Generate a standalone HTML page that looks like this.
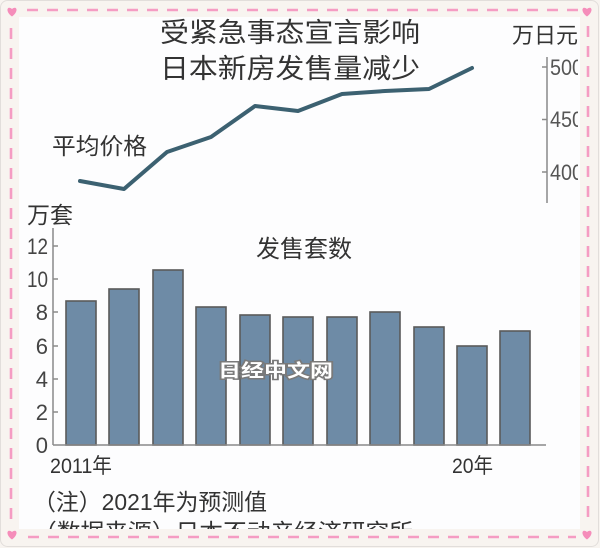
<!DOCTYPE html>
<html><head><meta charset="utf-8"><style>
html,body{margin:0;padding:0;background:#f8f4f0;}
svg{display:block;}
text{font-family:"Liberation Sans","Noto Sans CJK SC",sans-serif;fill:#333;}
</style></head><body>
<svg width="600" height="548" viewBox="0 0 600 548" xmlns="http://www.w3.org/2000/svg">
<defs>
<clipPath id="panel"><rect x="19" y="17" width="559" height="512"/></clipPath>
<path id="heart" d="M0,4.5 C-7,-0.5 -5,-7 0,-3 C5,-7 7,-0.5 0,4.5Z" fill="#f58dba"/>
</defs>
<rect x="0.5" y="0.5" width="598" height="546" rx="7" fill="#f8f4f0" stroke="#e2dedb"/>
<rect x="19" y="17" width="561" height="512" fill="#fdfdfe"/>
<!-- dashed border -->
<g stroke="#f59cc3" stroke-width="2.6" fill="none" stroke-dasharray="11 9">
<line x1="27" y1="10" x2="578" y2="10"/>
<line x1="11" y1="28" x2="11" y2="526"/>
<line x1="588" y1="26" x2="588" y2="526"/>
<line x1="28" y1="537" x2="576" y2="537"/>
</g>
<use href="#heart" x="12" y="12"/>
<use href="#heart" x="587" y="12"/>
<use href="#heart" x="12" y="535"/>
<use href="#heart" x="587" y="535"/>

<g clip-path="url(#panel)">
<!-- titles -->
<text x="160" y="42" font-size="27" textLength="260" lengthAdjust="spacingAndGlyphs">受紧急事态宣言影响</text>
<text x="160" y="78" font-size="27" textLength="260" lengthAdjust="spacingAndGlyphs">日本新房发售量减少</text>
<text x="512" y="43" font-size="22" textLength="66" lengthAdjust="spacingAndGlyphs">万日元</text>
<text x="52" y="154" font-size="23" textLength="95" lengthAdjust="spacingAndGlyphs">平均价格</text>

<!-- right axis -->
<line x1="547" y1="57" x2="547" y2="203" stroke="#8a8a8a" stroke-width="1.5"/>
<g stroke="#8a8a8a" stroke-width="1.5">
<line x1="542" y1="67" x2="547" y2="67"/>
<line x1="542" y1="119.5" x2="547" y2="119.5"/>
<line x1="542" y1="172" x2="547" y2="172"/>
</g>
<g font-size="22">
<text x="550" y="75" textLength="33" lengthAdjust="spacingAndGlyphs" style="fill:#555">500</text>
<text x="550" y="127" textLength="33" lengthAdjust="spacingAndGlyphs" style="fill:#555">450</text>
<text x="550" y="180" textLength="33" lengthAdjust="spacingAndGlyphs" style="fill:#555">400</text>
</g>

<!-- price line -->
<polyline points="80,181 124,189 167,152 211,137 255,106 298,111 342,94 385,91 429,89 472,68" fill="none" stroke="#3c6171" stroke-width="4" stroke-linejoin="round" stroke-linecap="round"/>

<!-- bar chart -->
<text x="27" y="223" font-size="23" textLength="46" lengthAdjust="spacingAndGlyphs">万套</text>
<text x="256" y="257" font-size="24" textLength="96" lengthAdjust="spacingAndGlyphs">发售套数</text>

<g fill="#6e8ba6" stroke="#5a5a5a" stroke-width="1.6">
<rect x="66" y="301" width="30" height="144"/>
<rect x="109" y="289" width="30" height="156"/>
<rect x="153" y="270" width="30" height="175"/>
<rect x="196" y="307" width="30" height="138"/>
<rect x="240" y="315" width="30" height="130"/>
<rect x="283" y="317" width="30" height="128"/>
<rect x="327" y="317" width="30" height="128"/>
<rect x="370" y="312" width="30" height="133"/>
<rect x="414" y="327" width="30" height="118"/>
<rect x="457" y="346" width="30" height="99"/>
<rect x="500" y="331" width="30" height="114"/>
</g>

<line x1="53" y1="228" x2="53" y2="445" stroke="#8a8a8a" stroke-width="1.5"/>
<line x1="53" y1="445" x2="546" y2="445" stroke="#8a8a8a" stroke-width="1.5"/>
<g stroke="#8a8a8a" stroke-width="1.5">
<line x1="53" y1="246" x2="58" y2="246"/>
<line x1="53" y1="279" x2="58" y2="279"/>
<line x1="53" y1="312" x2="58" y2="312"/>
<line x1="53" y1="346" x2="58" y2="346"/>
<line x1="53" y1="379" x2="58" y2="379"/>
<line x1="53" y1="412" x2="58" y2="412"/>
</g>
<g font-size="22" text-anchor="end">
<text x="48" y="254" textLength="21" lengthAdjust="spacingAndGlyphs" style="fill:#444">12</text>
<text x="48" y="287" textLength="21" lengthAdjust="spacingAndGlyphs" style="fill:#444">10</text>
<text x="48" y="320" style="fill:#444">8</text>
<text x="48" y="354" style="fill:#444">6</text>
<text x="48" y="387" style="fill:#444">4</text>
<text x="48" y="420" style="fill:#444">2</text>
<text x="48" y="453" style="fill:#444">0</text>
</g>
<text x="50" y="473" font-size="21" textLength="62" lengthAdjust="spacingAndGlyphs">2011年</text>
<text x="452" y="473" font-size="21" textLength="41" lengthAdjust="spacingAndGlyphs">20年</text>

<!-- watermark -->
<text x="218" y="377" font-size="18" font-weight="bold" textLength="115" lengthAdjust="spacingAndGlyphs" style="fill:#ffffff;stroke:#7a7a7a;stroke-width:3;paint-order:stroke;">日经中文网</text>

<!-- notes -->
<text x="33" y="510" font-size="23" textLength="234" lengthAdjust="spacingAndGlyphs">（注）2021年为预测值</text>
<text x="33" y="540" font-size="23" textLength="380" lengthAdjust="spacingAndGlyphs">（数据来源）日本不动产经济研究所</text>
</g>
</svg>
</body></html>
